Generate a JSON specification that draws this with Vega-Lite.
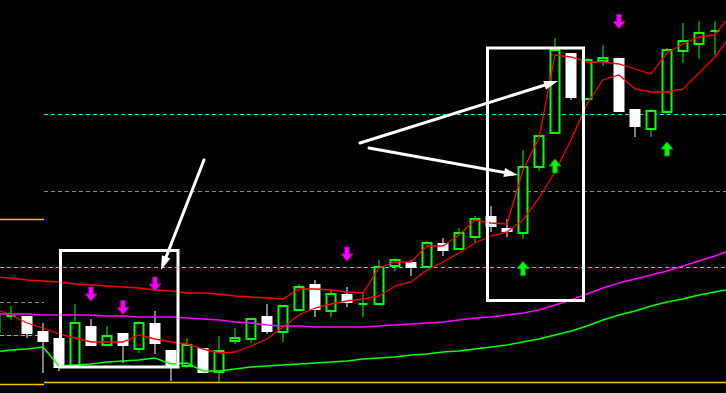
{
  "$schema": "https://vega.github.io/schema/vega-lite/v6.json",
  "width": 726,
  "height": 393,
  "autosize": "none",
  "padding": 0,
  "background": "#000000",
  "config": {"view": {"stroke": null}, "scale": {"continuousPadding": 0}},
  "datasets": {
    "candles": [
      {"t":-1,"open":61,"high":77,"low":61,"close":77,"dir":"up"},
      {"t":0,"open":77,"high":87,"low":73,"close":77,"dir":"doji"},
      {"t":1,"open":77,"high":77,"low":55,"close":59,"dir":"down"},
      {"t":2,"open":62,"high":70,"low":20,"close":51,"dir":"down"},
      {"t":3,"open":55,"high":55,"low":22,"close":25,"dir":"down"},
      {"t":4,"open":27,"high":89,"low":27,"close":70,"dir":"up"},
      {"t":5,"open":67,"high":74,"low":47,"close":47,"dir":"down"},
      {"t":6,"open":48,"high":67,"low":48,"close":57,"dir":"up"},
      {"t":7,"open":60,"high":60,"low":30,"close":47,"dir":"down"},
      {"t":8,"open":44,"high":72,"low":40,"close":70,"dir":"up"},
      {"t":9,"open":70,"high":82,"low":39,"close":49,"dir":"down"},
      {"t":10,"open":43,"high":43,"low":12,"close":25,"dir":"down"},
      {"t":11,"open":27,"high":55,"low":25,"close":48,"dir":"up"},
      {"t":12,"open":45,"high":45,"low":20,"close":20,"dir":"down"},
      {"t":13,"open":21,"high":57,"low":11,"close":42,"dir":"up"},
      {"t":14,"open":52,"high":65,"low":49,"close":55,"dir":"up"},
      {"t":15,"open":54,"high":74,"low":50,"close":74,"dir":"up"},
      {"t":16,"open":77,"high":89,"low":59,"close":61,"dir":"down"},
      {"t":17,"open":61,"high":87,"low":51,"close":87,"dir":"up"},
      {"t":18,"open":83,"high":109,"low":83,"close":106,"dir":"up"},
      {"t":19,"open":109,"high":113,"low":76,"close":83,"dir":"down"},
      {"t":20,"open":82,"high":104,"low":76,"close":99,"dir":"up"},
      {"t":21,"open":99,"high":106,"low":86,"close":90,"dir":"down"},
      {"t":22,"open":89,"high":100,"low":76,"close":89,"dir":"doji"},
      {"t":23,"open":89,"high":133,"low":89,"close":126,"dir":"up"},
      {"t":24,"open":127,"high":135,"low":122,"close":133,"dir":"up"},
      {"t":25,"open":131,"high":133,"low":117,"close":125,"dir":"down"},
      {"t":26,"open":126,"high":152,"low":126,"close":150,"dir":"up"},
      {"t":27,"open":150,"high":155,"low":137,"close":142,"dir":"down"},
      {"t":28,"open":144,"high":165,"low":144,"close":160,"dir":"up"},
      {"t":29,"open":156,"high":177,"low":151,"close":174,"dir":"up"},
      {"t":30,"open":177,"high":187,"low":161,"close":166,"dir":"down"},
      {"t":31,"open":165,"high":174,"low":156,"close":161,"dir":"down"},
      {"t":32,"open":160,"high":243,"low":154,"close":226,"dir":"up"},
      {"t":33,"open":226,"high":257,"low":222,"close":257,"dir":"up"},
      {"t":34,"open":260,"high":355,"low":260,"close":343,"dir":"up"},
      {"t":35,"open":340,"high":340,"low":293,"close":295,"dir":"down"},
      {"t":36,"open":294,"high":335,"low":294,"close":333,"dir":"up"},
      {"t":37,"open":332,"high":348,"low":327,"close":335,"dir":"up"},
      {"t":38,"open":335,"high":335,"low":281,"close":281,"dir":"down"},
      {"t":39,"open":284,"high":284,"low":256,"close":266,"dir":"down"},
      {"t":40,"open":264,"high":284,"low":256,"close":282,"dir":"up"},
      {"t":41,"open":281,"high":345,"low":281,"close":343,"dir":"up"},
      {"t":42,"open":342,"high":370,"low":330,"close":352,"dir":"up"},
      {"t":43,"open":349,"high":372,"low":334,"close":360,"dir":"up"},
      {"t":44,"open":362,"high":372,"low":338,"close":362,"dir":"doji"}
    ],
    "ma": [
      {"t":-1,"redA":116,"redB":84,"mag":79,"grn":41},
      {"t":0,"redA":115,"redB":78,"mag":79,"grn":43},
      {"t":1,"redA":113,"redB":70,"mag":79,"grn":44},
      {"t":2,"redA":112,"redB":65,"mag":78,"grn":46},
      {"t":3,"redA":111,"redB":59,"mag":78,"grn":27},
      {"t":4,"redA":109,"redB":55,"mag":78,"grn":28},
      {"t":5,"redA":108,"redB":51,"mag":78,"grn":29},
      {"t":6,"redA":107,"redB":51,"mag":77,"grn":31},
      {"t":7,"redA":106,"redB":51,"mag":77,"grn":32},
      {"t":8,"redA":105,"redB":58,"mag":76,"grn":33},
      {"t":9,"redA":103,"redB":54,"mag":76,"grn":35},
      {"t":10,"redA":102,"redB":51,"mag":76,"grn":29},
      {"t":11,"redA":100,"redB":49,"mag":75,"grn":30},
      {"t":12,"redA":100,"redB":44,"mag":74,"grn":22},
      {"t":13,"redA":99,"redB":40,"mag":73,"grn":22},
      {"t":14,"redA":97,"redB":41,"mag":71,"grn":24},
      {"t":15,"redA":96,"redB":47,"mag":70,"grn":26},
      {"t":16,"redA":95,"redB":54,"mag":68,"grn":27},
      {"t":17,"redA":94,"redB":66,"mag":67,"grn":28},
      {"t":18,"redA":104,"redB":78,"mag":67,"grn":29},
      {"t":19,"redA":104,"redB":85,"mag":66,"grn":30},
      {"t":20,"redA":103,"redB":89,"mag":66,"grn":31},
      {"t":21,"redA":101,"redB":92,"mag":66,"grn":32},
      {"t":22,"redA":100,"redB":94,"mag":66,"grn":34},
      {"t":23,"redA":125,"redB":97,"mag":67,"grn":35},
      {"t":24,"redA":131,"redB":107,"mag":68,"grn":36},
      {"t":25,"redA":131,"redB":111,"mag":69,"grn":38},
      {"t":26,"redA":147,"redB":123,"mag":70,"grn":39},
      {"t":27,"redA":147,"redB":131,"mag":71,"grn":41},
      {"t":28,"redA":158,"redB":140,"mag":73,"grn":42},
      {"t":29,"redA":173,"redB":150,"mag":75,"grn":44},
      {"t":30,"redA":170,"redB":157,"mag":76,"grn":46},
      {"t":31,"redA":169,"redB":161,"mag":78,"grn":48},
      {"t":32,"redA":223,"redB":173,"mag":80,"grn":51},
      {"t":33,"redA":255,"redB":195,"mag":83,"grn":54},
      {"t":34,"redA":338,"redB":221,"mag":88,"grn":58},
      {"t":35,"redA":336,"redB":253,"mag":93,"grn":62},
      {"t":36,"redA":331,"redB":289,"mag":99,"grn":67},
      {"t":37,"redA":331,"redB":313,"mag":105,"grn":73},
      {"t":38,"redA":329,"redB":318,"mag":110,"grn":78},
      {"t":39,"redA":324,"redB":304,"mag":114,"grn":82},
      {"t":40,"redA":319,"redB":301,"mag":118,"grn":87},
      {"t":41,"redA":340,"redB":301,"mag":122,"grn":91},
      {"t":42,"redA":349,"redB":304,"mag":127,"grn":94},
      {"t":43,"redA":356,"redB":320,"mag":132,"grn":98},
      {"t":44,"redA":358,"redB":336,"mag":137,"grn":101},
      {"t":45,"redA":379,"redB":358,"mag":143,"grn":104}
    ],
    "cyanLevels": [
      {"t":2.0625,"t2":44.6875,"v":278.5},
      {"t":-0.6875,"t2":44.6875,"v":125.5},
      {"t":-0.6875,"t2":2.0625,"v":57.5}
    ],
    "grayLevels": [
      {"t":2.0625,"t2":44.6875,"v":201.5},
      {"t":-0.6875,"t2":2.0625,"v":90.5}
    ],
    "orangeLevels": [
      {"t":-0.6875,"t2":2.0625,"v":173.5},
      {"t":-0.6875,"t2":2.0625,"v":8.5},
      {"t":2.0625,"t2":44.6875,"v":10.5}
    ],
    "sells": [
      {"t":5,"v":99},
      {"t":7,"v":85.5},
      {"t":9,"v":109},
      {"t":21,"v":139},
      {"t":38,"v":371.5}
    ],
    "buys": [
      {"t":32,"v":124.5},
      {"t":34,"v":227},
      {"t":41,"v":244}
    ],
    "boxes": [
      {"t":3.094,"t2":10.4375,"v":142.5,"v2":26},
      {"t":29.781,"t2":35.781,"v":345,"v2":92.5}
    ],
    "pointers": [
      {"id":"a","t":12.0625,"v":233,"t2":9.5125,"v2":128.6,"tipT":9.375,"tipV":123},
      {"id":"b","t":21.8125,"v":250,"t2":33.83,"v2":310.2,"tipT":34.1875,"tipV":312},
      {"id":"c","t":22.375,"v":245,"t2":31.32,"v2":219.1,"tipT":31.6875,"tipV":218}
    ]
  },
  "layer": [
    {
      "data": {"name": "cyanLevels"},
      "mark": {"type": "rule", "color": "#00f0f0", "strokeWidth": 1, "strokeDash": [4, 3]},
      "encoding": {
        "x": {"field": "t", "type": "quantitative", "scale": {"domain": [-0.6875, 44.6875], "nice": false, "zero": false, "padding": 0}, "axis": null},
        "x2": {"field": "t2"},
        "y": {"field": "v", "type": "quantitative", "scale": {"domain": [0, 393], "nice": false, "zero": false, "padding": 0}, "axis": null}
      }
    },
    {
      "data": {"name": "grayLevels"},
      "mark": {"type": "rule", "color": "#8a8a8a", "strokeWidth": 1, "strokeDash": [4, 3]},
      "encoding": {
        "x": {"field": "t", "type": "quantitative", "scale": {"domain": [-0.6875, 44.6875], "nice": false, "zero": false, "padding": 0}, "axis": null},
        "x2": {"field": "t2"},
        "y": {"field": "v", "type": "quantitative", "scale": {"domain": [0, 393], "nice": false, "zero": false, "padding": 0}, "axis": null}
      }
    },
    {
      "data": {"name": "orangeLevels"},
      "mark": {"type": "rule", "color": "#ffc000", "strokeWidth": 1.5},
      "encoding": {
        "x": {"field": "t", "type": "quantitative", "scale": {"domain": [-0.6875, 44.6875], "nice": false, "zero": false, "padding": 0}, "axis": null},
        "x2": {"field": "t2"},
        "y": {"field": "v", "type": "quantitative", "scale": {"domain": [0, 393], "nice": false, "zero": false, "padding": 0}, "axis": null}
      }
    },
    {
      "data": {"name": "candles"},
      "mark": {"type": "rule", "strokeWidth": 1},
      "encoding": {
        "x": {"field": "t", "type": "quantitative", "scale": {"domain": [-0.6875, 44.6875], "nice": false, "zero": false, "padding": 0}, "axis": null},
        "y": {"field": "low", "type": "quantitative", "scale": {"domain": [0, 393], "nice": false, "zero": false, "padding": 0}, "axis": null},
        "y2": {"field": "high"},
        "color": {"field": "dir", "type": "nominal", "scale": {"domain": ["up", "down", "doji"], "range": ["#00ff00", "#ffffff", "#00ff00"]}, "legend": null}
      }
    },
    {
      "data": {"name": "candles"},
      "transform": [{"filter": "datum.dir != 'down'"}],
      "mark": {"type": "bar", "size": 9, "fill": "#000000", "stroke": "#00ff00", "strokeWidth": 2},
      "encoding": {
        "x": {"field": "t", "type": "quantitative", "scale": {"domain": [-0.6875, 44.6875], "nice": false, "zero": false, "padding": 0}, "axis": null},
        "y": {"field": "open", "type": "quantitative", "scale": {"domain": [0, 393], "nice": false, "zero": false, "padding": 0}, "axis": null},
        "y2": {"field": "close"}
      }
    },
    {
      "data": {"name": "candles"},
      "transform": [{"filter": "datum.dir == 'down'"}],
      "mark": {"type": "bar", "size": 11, "fill": "#ffffff"},
      "encoding": {
        "x": {"field": "t", "type": "quantitative", "scale": {"domain": [-0.6875, 44.6875], "nice": false, "zero": false, "padding": 0}, "axis": null},
        "y": {"field": "open", "type": "quantitative", "scale": {"domain": [0, 393], "nice": false, "zero": false, "padding": 0}, "axis": null},
        "y2": {"field": "close"}
      }
    },
    {
      "data": {"name": "ma"},
      "mark": {"type": "line", "color": "#00ff00", "strokeWidth": 1.5},
      "encoding": {
        "x": {"field": "t", "type": "quantitative", "scale": {"domain": [-0.6875, 44.6875], "nice": false, "zero": false, "padding": 0}, "axis": null},
        "y": {"field": "grn", "type": "quantitative", "scale": {"domain": [0, 393], "nice": false, "zero": false, "padding": 0}, "axis": null}
      }
    },
    {
      "data": {"name": "ma"},
      "mark": {"type": "line", "color": "#ff00ff", "strokeWidth": 1.5},
      "encoding": {
        "x": {"field": "t", "type": "quantitative", "scale": {"domain": [-0.6875, 44.6875], "nice": false, "zero": false, "padding": 0}, "axis": null},
        "y": {"field": "mag", "type": "quantitative", "scale": {"domain": [0, 393], "nice": false, "zero": false, "padding": 0}, "axis": null}
      }
    },
    {
      "data": {"name": "ma"},
      "mark": {"type": "line", "color": "#ff0000", "strokeWidth": 1.3},
      "encoding": {
        "x": {"field": "t", "type": "quantitative", "scale": {"domain": [-0.6875, 44.6875], "nice": false, "zero": false, "padding": 0}, "axis": null},
        "y": {"field": "redB", "type": "quantitative", "scale": {"domain": [0, 393], "nice": false, "zero": false, "padding": 0}, "axis": null}
      }
    },
    {
      "data": {"name": "ma"},
      "mark": {"type": "line", "color": "#ff0000", "strokeWidth": 1.3},
      "encoding": {
        "x": {"field": "t", "type": "quantitative", "scale": {"domain": [-0.6875, 44.6875], "nice": false, "zero": false, "padding": 0}, "axis": null},
        "y": {"field": "redA", "type": "quantitative", "scale": {"domain": [0, 393], "nice": false, "zero": false, "padding": 0}, "axis": null}
      }
    },
    {
      "data": {"name": "sells"},
      "mark": {"type": "point", "shape": "M-0.32,-1 L0.32,-1 L0.32,0 L0.85,0 L0,1 L-0.85,0 L-0.32,0 Z", "size": 196, "filled": true, "fill": "#ff00ff", "fillOpacity": 1, "stroke": "#a000a0", "strokeWidth": 1, "opacity": 1},
      "encoding": {
        "x": {"field": "t", "type": "quantitative", "scale": {"domain": [-0.6875, 44.6875], "nice": false, "zero": false, "padding": 0}, "axis": null},
        "y": {"field": "v", "type": "quantitative", "scale": {"domain": [0, 393], "nice": false, "zero": false, "padding": 0}, "axis": null}
      }
    },
    {
      "data": {"name": "buys"},
      "mark": {"type": "point", "shape": "M-0.32,1 L0.32,1 L0.32,0 L0.85,0 L0,-1 L-0.85,0 L-0.32,0 Z", "size": 196, "filled": true, "fill": "#00ff00", "fillOpacity": 1, "stroke": "#00a000", "strokeWidth": 1, "opacity": 1},
      "encoding": {
        "x": {"field": "t", "type": "quantitative", "scale": {"domain": [-0.6875, 44.6875], "nice": false, "zero": false, "padding": 0}, "axis": null},
        "y": {"field": "v", "type": "quantitative", "scale": {"domain": [0, 393], "nice": false, "zero": false, "padding": 0}, "axis": null}
      }
    },
    {
      "data": {"name": "boxes"},
      "mark": {"type": "rect", "filled": false, "fill": null, "stroke": "#ffffff", "strokeWidth": 3},
      "encoding": {
        "x": {"field": "t", "type": "quantitative", "scale": {"domain": [-0.6875, 44.6875], "nice": false, "zero": false, "padding": 0}, "axis": null},
        "x2": {"field": "t2"},
        "y": {"field": "v", "type": "quantitative", "scale": {"domain": [0, 393], "nice": false, "zero": false, "padding": 0}, "axis": null},
        "y2": {"field": "v2"}
      }
    },
    {
      "data": {"name": "pointers"},
      "mark": {"type": "rule", "color": "#ffffff", "strokeWidth": 3, "strokeCap": "round"},
      "encoding": {
        "x": {"field": "t", "type": "quantitative", "scale": {"domain": [-0.6875, 44.6875], "nice": false, "zero": false, "padding": 0}, "axis": null},
        "x2": {"field": "t2"},
        "y": {"field": "v", "type": "quantitative", "scale": {"domain": [0, 393], "nice": false, "zero": false, "padding": 0}, "axis": null},
        "y2": {"field": "v2"}
      }
    },
    {
      "data": {"name": "pointers"},
      "transform": [{"filter": "datum.id == 'a'"}],
      "mark": {"type": "point", "shape": "M0,0 L-0.45,1.4 L0.45,1.4 Z", "size": 400, "filled": true, "fill": "#ffffff", "opacity": 1, "angle": 201.3},
      "encoding": {
        "x": {"field": "tipT", "type": "quantitative", "scale": {"domain": [-0.6875, 44.6875], "nice": false, "zero": false, "padding": 0}, "axis": null},
        "y": {"field": "tipV", "type": "quantitative", "scale": {"domain": [0, 393], "nice": false, "zero": false, "padding": 0}, "axis": null}
      }
    },
    {
      "data": {"name": "pointers"},
      "transform": [{"filter": "datum.id == 'b'"}],
      "mark": {"type": "point", "shape": "M0,0 L-0.45,1.4 L0.45,1.4 Z", "size": 400, "filled": true, "fill": "#ffffff", "opacity": 1, "angle": 72.6},
      "encoding": {
        "x": {"field": "tipT", "type": "quantitative", "scale": {"domain": [-0.6875, 44.6875], "nice": false, "zero": false, "padding": 0}, "axis": null},
        "y": {"field": "tipV", "type": "quantitative", "scale": {"domain": [0, 393], "nice": false, "zero": false, "padding": 0}, "axis": null}
      }
    },
    {
      "data": {"name": "pointers"},
      "transform": [{"filter": "datum.id == 'c'"}],
      "mark": {"type": "point", "shape": "M0,0 L-0.45,1.4 L0.45,1.4 Z", "size": 400, "filled": true, "fill": "#ffffff", "opacity": 1, "angle": 100.3},
      "encoding": {
        "x": {"field": "tipT", "type": "quantitative", "scale": {"domain": [-0.6875, 44.6875], "nice": false, "zero": false, "padding": 0}, "axis": null},
        "y": {"field": "tipV", "type": "quantitative", "scale": {"domain": [0, 393], "nice": false, "zero": false, "padding": 0}, "axis": null}
      }
    }
  ]
}
